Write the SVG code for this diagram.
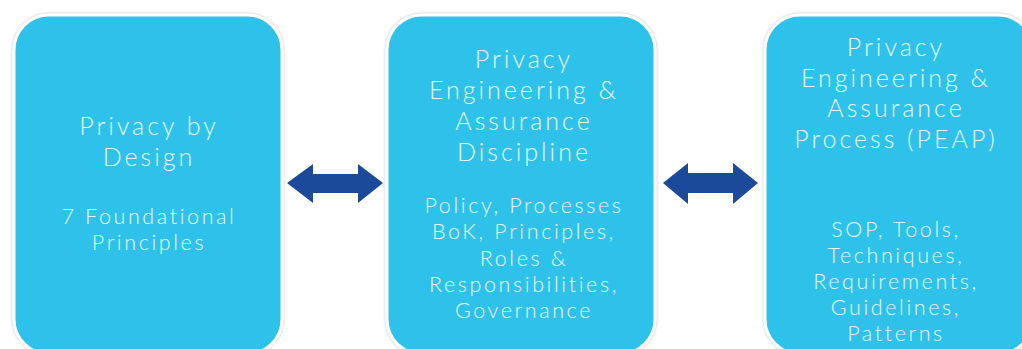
<svg xmlns="http://www.w3.org/2000/svg" width="1022" height="349" viewBox="0 0 1022 349">
<defs>
<filter id="sh" x="-5%" y="-5%" width="110%" height="110%">
<feDropShadow dx="0" dy="0" stdDeviation="1.4" flood-color="#8a8a8a" flood-opacity="0.55"/>
</filter>
</defs>
<style>
.box{fill:#2DC2EA;stroke:#ffffff;stroke-width:3;filter:url(#sh)}
.t{font-family:Lato,"Open Sans","Liberation Sans",sans-serif;font-weight:300;fill:#E8F7FC;text-anchor:middle}
.h{font-size:25px;letter-spacing:3px}
.s{font-size:21.5px;letter-spacing:2.6px}
.arr{fill:#1B4A9A}
</style>
<rect width="1022" height="349" fill="#ffffff"/>
<g id="node-pbd">
<rect class="box" x="14" y="15" width="268" height="339" rx="35" ry="35"/>
<text class="t h" x="149" y="135">Privacy by</text>
<text class="t h" x="149" y="166">Design</text>
<text class="t s" x="149" y="224">7 Foundational</text>
<text class="t s" x="149" y="250">Principles</text>
</g>
<g id="node-pead">
<rect class="box" x="387" y="15" width="268" height="339" rx="35" ry="35"/>
<text class="t h" x="524" y="68">Privacy</text>
<text class="t h" x="524" y="99">Engineering &amp;</text>
<text class="t h" x="524" y="130">Assurance</text>
<text class="t h" x="524" y="161">Discipline</text>
<text class="t s" x="524" y="213">Policy, Processes</text>
<text class="t s" x="524" y="239">BoK, Principles,</text>
<text class="t s" x="524" y="266">Roles &amp;</text>
<text class="t s" x="524" y="292">Responsibilities,</text>
<text class="t s" x="524" y="318">Governance</text>
</g>
<g id="node-peap">
<rect class="box" x="765" y="15" width="268" height="339" rx="35" ry="35"/>
<text class="t h" x="896" y="56">Privacy</text>
<text class="t h" x="896" y="87">Engineering &amp;</text>
<text class="t h" x="896" y="117">Assurance</text>
<text class="t h" x="896" y="148">Process (PEAP)</text>
<text class="t s" x="896" y="237">SOP, Tools,</text>
<text class="t s" x="896" y="263">Techniques,</text>
<text class="t s" x="896" y="289">Requirements,</text>
<text class="t s" x="896" y="315">Guidelines,</text>
<text class="t s" x="896" y="341">Patterns</text>
</g>
<g id="connectors">
<polygon class="arr" points="287,183 313,164 313,174 358,174 358,164 383,183 358,203 358,193 313,193 313,203"/>
<polygon class="arr" points="663,183 688,163 688,173 733,173 733,163 758,183 733,204 733,193 688,193 688,204"/>
</g>
</svg>
